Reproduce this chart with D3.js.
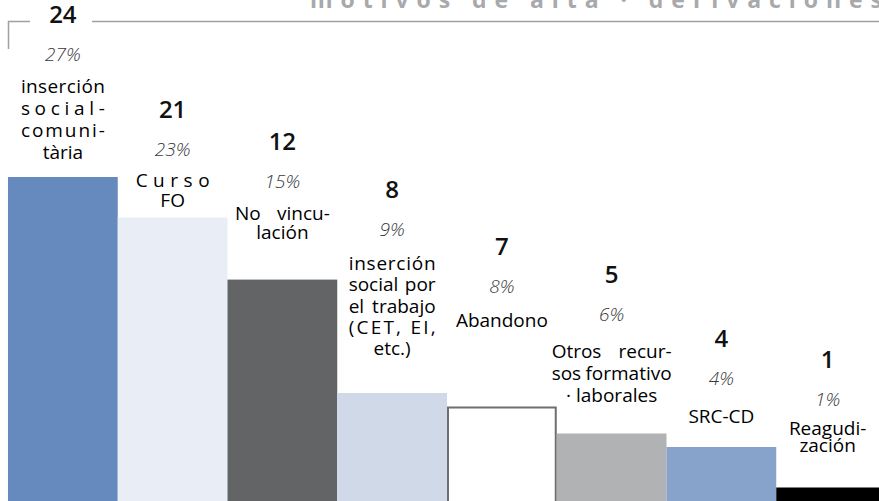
<!DOCTYPE html>
<html>
<head>
<meta charset="utf-8">
<script src="https://cdn.jsdelivr.net/npm/d3@7"></script>
<style>
  body { margin: 0; background: #fff; }
  svg { display: block; font-family: "Open Sans", "Noto Sans", sans-serif; }
</style>
</head>
<body>
<script>
// chart data
var categories = ["insercion-social", "curso-fo", "no-vinculacion", "insercion-trabajo",
                  "abandono", "otros-recursos", "src-cd", "reagudizacion"];
var counts = [24, 21, 12, 8, 7, 5, 4, 1];
// bar heights as drawn in the picture (No vinculación bar is taller than its count)
var barValues = [24, 21, 16.4, 8, 7, 5, 4, 1];
var percents = ["27%", "23%", "15%", "9%", "8%", "6%", "4%", "1%"];
var catLabels = [
  ["inserción", "social-", "comuni-", "tària"],
  ["Curso", "FO"],
  ["No vincu-", "lación"],
  ["inserción", "social por", "el trabajo", "(CET, EI,", "etc.)"],
  ["Abandono"],
  ["Otros recur-", "sos formativo", "· laborales"],
  ["SRC-CD"],
  ["Reagudi-", "zación"]
];
var barColors = ["#6689be", "#e9edf6", "#636466", "#cfd9e8", "#ffffff", "#b1b2b4", "#87a3cb", "#000000"];
var title = "motivos de alta · derivaciones";

// layout (label baselines, line heights, justified widths)
var countY = [23, 118, 150, 198, 255, 283, 347, 368];
var catY = [93, 187, 220, 270, 327, 358, 423, 435];
var lineH = [22, 20, 19, 21.3, 21, 22, 21, 17];
var justW = [84, 74, 95, 87, 0, 120, 0, 0];

var svgWidth = 879;
var svgHeight = 501;

var svg = d3.select("body")
  .append("svg")
  .attr("width", svgWidth)
  .attr("height", svgHeight);

var x = d3.scaleBand()
  .domain(categories)
  .range([8, 886])
  .padding(0);

var y = d3.scaleLinear()
  .domain([0, 24])
  .range([501, 177]);

// title, cut off at the top
svg.append("text")
  .attr("x", 310)
  .attr("y", 7.5)
  .attr("textLength", 572)
  .attr("lengthAdjust", "spacing")
  .style("font-size", "23px")
  .style("font-weight", 700)
  .style("fill", "#a7a9ac")
  .text(title);

// frame lines
svg.append("path")
  .attr("d", "M8.5,49V21.5H30")
  .attr("fill", "none")
  .attr("stroke", "#a0a0a0")
  .attr("stroke-width", 1.5);
svg.append("line")
  .attr("x1", 92).attr("x2", 879)
  .attr("y1", 21.5).attr("y2", 21.5)
  .attr("stroke", "#a0a0a0")
  .attr("stroke-width", 1.5);

// bars
svg.selectAll("rect.bar")
  .data(categories)
  .enter()
  .append("rect")
  .attr("class", "bar")
  .attr("x", function(d, i) { return x(d) + (i == 4 ? 1 : 0); })
  .attr("y", function(d, i) { return y(barValues[i]) + (i == 4 ? 1 : 0); })
  .attr("width", function(d, i) { return x.bandwidth() - (i == 4 ? 2 : 0); })
  .attr("height", function(d, i) { return y(0) - y(barValues[i]) + 2; })
  .attr("fill", function(d, i) { return barColors[i]; })
  .attr("stroke", function(d, i) { return i == 4 ? "#6d6e71" : "none"; })
  .attr("stroke-width", 2);

function cx(i) {
  var x0 = x(categories[i]);
  return (x0 + Math.min(x0 + x.bandwidth(), svgWidth)) / 2;
}

var labels = svg.selectAll("g.label")
  .data(categories)
  .enter()
  .append("g")
  .attr("class", "label");

labels.append("text")
  .attr("x", function(d, i) { return cx(i); })
  .attr("y", function(d, i) { return countY[i]; })
  .attr("text-anchor", "middle")
  .style("font-size", "24px")
  .style("font-weight", 600)
  .style("fill", "#111")
  .text(function(d, i) { return counts[i]; });

labels.append("text")
  .attr("x", function(d, i) { return cx(i); })
  .attr("y", function(d, i) { return countY[i] + 38; })
  .attr("text-anchor", "middle")
  .style("font-size", "19px")
  .style("font-style", "italic")
  .style("font-weight", 300)
  .style("fill", "#3a3a3c")
  .text(function(d, i) { return percents[i]; });

// category labels, justified like the original text boxes
labels.each(function(d, i) {
  var g = d3.select(this);
  var lines = catLabels[i];
  var c = cx(i);
  lines.forEach(function(line, k) {
    var ly = catY[i] + k * lineH[i];
    var w = justW[i];
    var last = k == lines.length - 1;
    var words = line.split(" ");
    if (w && !last && words.length == 2 && line.indexOf(",") < 0) {
      g.append("text").attr("x", c - w / 2).attr("y", ly)
        .attr("text-anchor", "start").attr("class", "cat").text(words[0]);
      g.append("text").attr("x", c + w / 2).attr("y", ly)
        .attr("text-anchor", "end").attr("class", "cat").text(words[1]);
    } else if (w && !last) {
      g.append("text").attr("x", c - w / 2).attr("y", ly)
        .attr("textLength", w).attr("lengthAdjust", "spacing")
        .attr("class", "cat").text(line);
    } else {
      g.append("text").attr("x", c).attr("y", ly)
        .attr("text-anchor", "middle").attr("class", "cat").text(line);
    }
  });
});

svg.selectAll("text.cat")
  .style("font-size", "19px")
  .style("fill", "#000");
</script>
</body>
</html>
